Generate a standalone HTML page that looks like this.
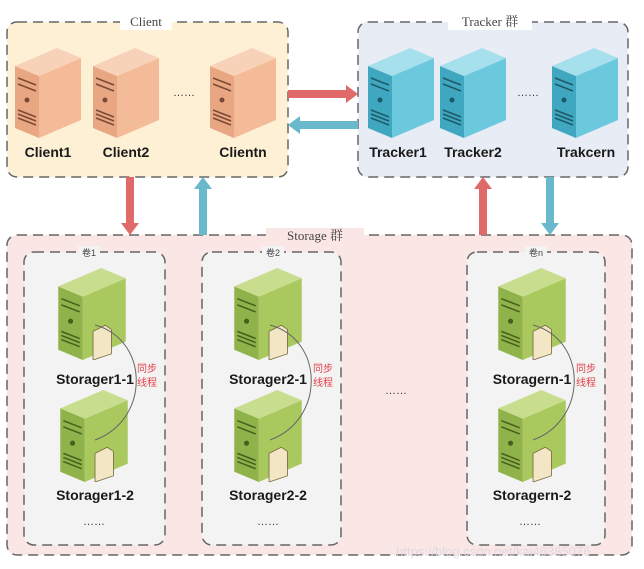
<!DOCTYPE html>
<html><head><meta charset="utf-8"><style>
body{margin:0;background:#fff}
svg{display:block}
text{font-family:"Liberation Sans","Noto Sans CJK SC",sans-serif}
.lb{font-weight:bold;font-size:14px;fill:#1a1a1a;text-anchor:middle}
.ttl{font-family:"Liberation Serif","Noto Serif CJK SC",serif;font-size:13px;fill:#444}
.sy{font-size:10px;fill:#e0404a}
</style></head><body>
<svg width="644" height="569" viewBox="0 0 644 569" xmlns="http://www.w3.org/2000/svg">
<defs>
<symbol id="so" viewBox="0 0 66 90"><path d="M0 18 L24 28 L24 90 L0 80Z" fill="#e9a682"/><path d="M24 28 L66 10 L66 72 L24 90Z" fill="#f3bb98"/><path d="M0 18 L42 0 L66 10 L24 28Z" fill="#f8d2b8"/><path d="M3 30 L21 37 M3 36 L21 43 M3 62 L21 69 M3 66 L21 73 M3 70 L21 77" stroke="#7a4a35" stroke-width="1.5"/><circle cx="12" cy="52" r="2.5" fill="#7a4a35"/></symbol>
<symbol id="sb" viewBox="0 0 66 90"><path d="M0 18 L24 28 L24 90 L0 80Z" fill="#3fa7bf"/><path d="M24 28 L66 10 L66 72 L24 90Z" fill="#6cc8dc"/><path d="M0 18 L42 0 L66 10 L24 28Z" fill="#a6e0ec"/><path d="M3 30 L21 37 M3 36 L21 43 M3 62 L21 69 M3 66 L21 73 M3 70 L21 77" stroke="#1d5a68" stroke-width="1.5"/><circle cx="12" cy="52" r="2.5" fill="#1d5a68"/></symbol>
<symbol id="sg" viewBox="0 0 66 90"><path d="M0 18 L24 28 L24 90 L0 80Z" fill="#8fb24a"/><path d="M24 28 L66 10 L66 72 L24 90Z" fill="#a9c95f"/><path d="M0 18 L42 0 L66 10 L24 28Z" fill="#c8de8e"/><path d="M3 30 L21 37 M3 36 L21 43 M3 62 L21 69 M3 66 L21 73 M3 70 L21 77" stroke="#46601d" stroke-width="1.5"/><circle cx="12" cy="52" r="2.5" fill="#46601d"/><path d="M34 62 L46 56 L52 60 L52 84 L34 90Z" fill="#f3e6c4" stroke="#7a6a40" stroke-width="0.8"/></symbol>
</defs>
<!-- boxes -->
<rect x="7" y="22" width="281" height="155" rx="10" fill="#fdf0d5" stroke="#666" stroke-width="1.5" stroke-dasharray="10,6"/>
<rect x="358" y="22" width="270" height="155" rx="10" fill="#e8ecf5" stroke="#666" stroke-width="1.5" stroke-dasharray="10,6"/>
<rect x="7" y="235" width="625" height="320" rx="10" fill="#fbe6e6" stroke="#666" stroke-width="1.5" stroke-dasharray="10,6"/>
<rect x="24" y="252" width="141" height="293" rx="10" fill="#f3f3f3" stroke="#666" stroke-width="1.5" stroke-dasharray="10,6"/>
<rect x="202" y="252" width="139" height="293" rx="10" fill="#f3f3f3" stroke="#666" stroke-width="1.5" stroke-dasharray="10,6"/>
<rect x="467" y="252" width="138" height="293" rx="10" fill="#f3f3f3" stroke="#666" stroke-width="1.5" stroke-dasharray="10,6"/>
<!-- titles -->
<rect x="120" y="14" width="52" height="16" fill="#fff"/><text class="ttl" x="146" y="26" text-anchor="middle">Client</text>
<rect x="448" y="14" width="84" height="16" fill="#fff"/><text class="ttl" x="490" y="26" text-anchor="middle">Tracker 群</text>
<rect x="266" y="228" width="98" height="16" fill="#fbe6e6"/><text class="ttl" x="315" y="240" text-anchor="middle">Storage 群</text>
<rect x="78" y="246" width="22" height="12" fill="#f3f3f3"/><text x="89" y="256" font-size="9" text-anchor="middle" fill="#444">卷1</text>
<rect x="262" y="246" width="22" height="12" fill="#f3f3f3"/><text x="273" y="256" font-size="9" text-anchor="middle" fill="#444">卷2</text>
<rect x="525" y="246" width="22" height="12" fill="#f3f3f3"/><text x="536" y="256" font-size="9" text-anchor="middle" fill="#444">卷n</text>
<!-- servers -->
<use href="#so" x="15" y="48" width="66" height="90"/>
<use href="#so" x="93" y="48" width="66" height="90"/>
<use href="#so" x="210" y="48" width="66" height="90"/>
<text x="184" y="96" font-size="11" fill="#333" text-anchor="middle">……</text>
<text class="lb" x="48" y="157">Client1</text><text class="lb" x="126" y="157">Client2</text><text class="lb" x="243" y="157">Clientn</text>
<use href="#sb" x="368" y="48" width="66" height="90"/>
<use href="#sb" x="440" y="48" width="66" height="90"/>
<use href="#sb" x="552" y="48" width="66" height="90"/>
<text x="528" y="96" font-size="11" fill="#333" text-anchor="middle">……</text>
<text class="lb" x="398" y="157">Tracker1</text><text class="lb" x="473" y="157">Tracker2</text><text class="lb" x="586" y="157">Trakcern</text>
<!-- arrows -->
<path d="M288 90 L346 90 L346 85 L358 94 L346 103 L346 98 L288 98Z" fill="#e06a6a"/>
<path d="M358 121 L300 121 L300 116 L288 125 L300 134 L300 129 L358 129Z" fill="#6ab8cc"/>
<path d="M126 177 L134 177 L134 223 L139 223 L130 235 L121 223 L126 223Z" fill="#e06a6a"/>
<path d="M199 235 L207 235 L207 189 L212 189 L203 177 L194 189 L199 189Z" fill="#6ab8cc"/>
<path d="M479 235 L487 235 L487 189 L492 189 L483 177 L474 189 L479 189Z" fill="#e06a6a"/>
<path d="M546 177 L554 177 L554 223 L559 223 L550 235 L541 223 L546 223Z" fill="#6ab8cc"/>
<!-- storage servers -->
<g id="v1">
<use href="#sg" x="58" y="268" width="68" height="92"/>
<use href="#sg" x="60" y="390" width="68" height="92"/>
<path d="M95 325 C150 340 150 420 95 440" fill="none" stroke="#666" stroke-width="1"/>
<text class="lb" x="95" y="384">Storager1-1</text><text class="lb" x="95" y="500">Storager1-2</text>
<text class="sy" x="137" y="372">同步</text><text class="sy" x="137" y="386">线程</text>
<text x="94" y="525" font-size="11" fill="#333" text-anchor="middle">……</text>
</g>
<use href="#sg" x="234" y="268" width="68" height="92"/>
<use href="#sg" x="234" y="390" width="68" height="92"/>
<path d="M270 325 C325 340 325 420 270 440" fill="none" stroke="#666" stroke-width="1"/>
<text class="lb" x="268" y="384">Storager2-1</text><text class="lb" x="268" y="500">Storager2-2</text>
<text class="sy" x="313" y="372">同步</text><text class="sy" x="313" y="386">线程</text>
<text x="268" y="525" font-size="11" fill="#333" text-anchor="middle">……</text>
<text x="396" y="394" font-size="11" fill="#333" text-anchor="middle">……</text>
<use href="#sg" x="498" y="268" width="68" height="92"/>
<use href="#sg" x="498" y="390" width="68" height="92"/>
<path d="M533 325 C588 340 588 420 533 440" fill="none" stroke="#666" stroke-width="1"/>
<text class="lb" x="532" y="384">Storagern-1</text><text class="lb" x="532" y="500">Storagern-2</text>
<text class="sy" x="576" y="372">同步</text><text class="sy" x="576" y="386">线程</text>
<text x="530" y="525" font-size="11" fill="#333" text-anchor="middle">……</text>
<text x="396" y="556" font-size="13" fill="#d8d8e0" opacity="0.85">https://blog.csdn.net/kai46385076</text>
</svg>
</body></html>
